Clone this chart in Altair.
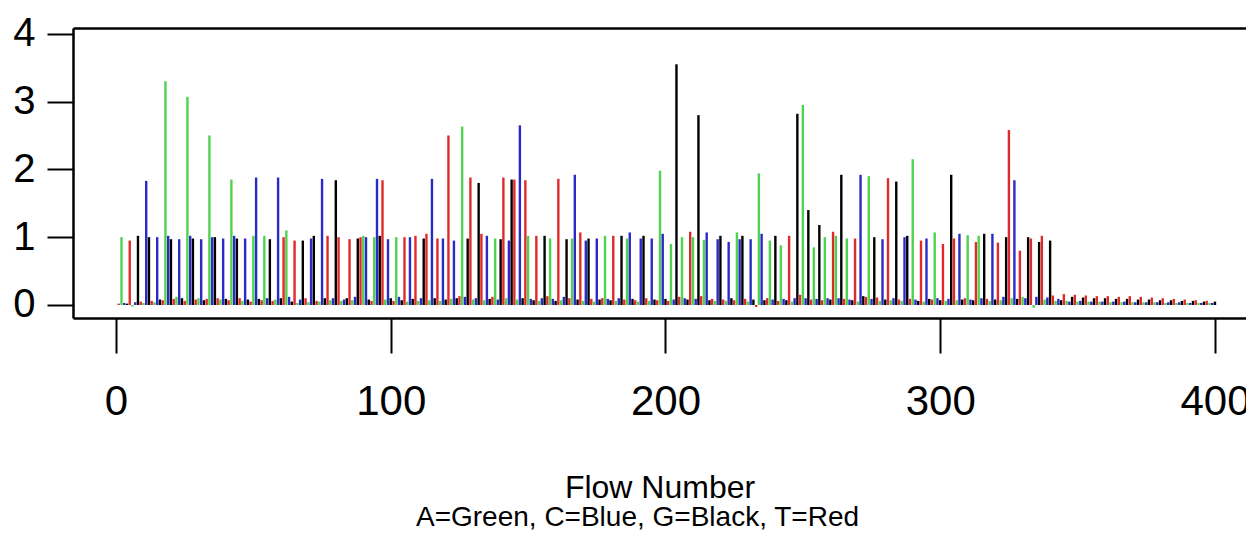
import altair as alt
import pandas as pd

# Flowgram: one signal value per flow, nucleotides flowed in the cyclic order T, A, C, G
FLOW_ORDER = "TACG"

VALUES = [
    # 1-20
    0.02, 1.00, 0.03, 0.02, 0.95, -0.02, 0.04, 1.02, 0.05, 0.03, 1.83, 1.00, 0.06, 0.04, 1.00, 0.08, 0.07, 3.30, 1.02, 0.97,
    # 21-40
    0.09, 0.12, 0.97, 0.10, 0.06, 3.07, 1.02, 0.98, 0.08, 0.10, 0.97, 0.07, 0.09, 2.50, 1.00, 1.00, 0.10, 0.08, 0.98, 0.09,
    # 41-60
    0.07, 1.85, 1.02, 0.98, 0.10, 0.06, 0.98, 0.08, 0.05, 1.02, 1.88, 0.09, 0.07, 1.02, 0.10, 0.97, 0.06, 0.08, 1.88, 0.10,
    # 61-80
    1.00, 1.10, 0.12, 0.05, 0.95, 0.03, 0.08, 0.95, 0.10, 0.04, 0.98, 1.02, 0.06, 0.05, 1.86, 0.10, 1.02, 0.07, 0.10, 1.84,
    # 81-100
    1.00, 0.06, 0.08, 0.10, 0.97, 0.07, 0.12, 0.98, 1.00, 1.02, 1.00, 0.08, 0.06, 1.00, 1.86, 1.02, 1.84, 0.08, 0.97, 0.10,
    # 101-120
    0.06, 1.00, 0.12, 0.07, 1.00, 0.05, 1.00, 0.09, 1.02, 0.06, 0.10, 0.98, 1.05, 0.07, 1.86, 0.10, 0.98, 0.06, 0.98, 0.08,
    # 121-140
    2.50, 0.09, 0.95, 0.10, 0.13, 2.63, 0.12, 0.98, 1.88, 0.08, 0.10, 1.80, 1.05, 0.07, 1.02, 0.09, 0.12, 0.98, 0.08, 0.97,
    # 141-160
    1.88, 0.10, 0.95, 1.85, 1.85, 0.08, 2.65, 0.10, 1.84, 1.02, 0.09, 0.07, 1.02, 0.06, 0.10, 1.02, 0.13, 0.98, 0.09, 0.06,
    # 161-180
    1.86, 0.07, 0.12, 0.97, 0.10, 0.98, 1.92, 0.08, 1.07, 0.06, 0.95, 0.98, 0.09, 0.05, 0.98, 0.08, 0.10, 1.02, 0.09, 0.07,
    # 181-200
    1.02, 0.06, 0.10, 1.02, 0.08, 0.98, 1.07, 0.09, 0.07, 0.05, 0.98, 1.02, 0.10, 0.06, 0.98, 0.08, 0.07, 1.98, 1.05, 0.09,
    # 201-220
    0.06, 0.90, 0.08, 3.55, 0.12, 1.00, 0.10, 0.08, 1.08, 1.00, 0.09, 2.80, 0.13, 0.96, 1.07, 0.07, 0.09, 0.06, 0.97, 1.02,
    # 221-240
    0.08, 0.06, 0.93, 0.10, 0.07, 1.07, 0.97, 1.02, 0.09, 0.05, 0.97, 0.08, -0.03, 1.94, 1.05, 0.07, 0.10, 0.95, 0.08, 1.02,
    # 241-260
    0.06, 0.88, 0.09, 0.07, 1.02, 0.05, 0.10, 2.82, 0.15, 2.95, 0.10, 1.40, 0.08, 0.85, 0.09, 1.18, 0.07, 1.00, 0.10, 0.08,
    # 261-280
    1.08, 1.02, 0.10, 1.92, 0.09, 0.98, 0.08, 0.07, 0.98, 0.05, 1.92, 0.13, 0.12, 1.90, 0.09, 1.00, 0.11, 0.06, 0.97, 0.08,
    # 281-300
    1.87, 0.07, 0.10, 1.82, 0.08, 0.06, 1.00, 1.02, 0.09, 2.15, 0.08, 0.06, 0.95, 0.05, 0.98, 0.09, 0.08, 1.07, 0.10, 0.07,
    # 301-320
    0.90, 0.06, 0.09, 1.92, 0.98, 0.07, 1.05, 0.08, 0.10, 1.03, 0.08, 0.07, 0.93, 1.02, 0.10, 1.05, 0.09, 0.06, 1.05, 0.08,
    # 321-340
    0.92, 0.07, 0.12, 1.00, 2.58, 0.10, 1.84, 0.09, 0.80, 0.12, 0.10, 1.00, 0.98, -0.04, 0.12, 0.93, 1.02, 0.08, 0.11, 0.95,
    # 341-360
    0.14, 0.06, 0.09, 0.07, 0.16, 0.06, 0.05, 0.12, 0.15, 0.05, 0.06, 0.11, 0.14, 0.05, 0.05, 0.10, 0.13, 0.05, 0.05, 0.10,
    # 361-380
    0.13, 0.04, 0.05, 0.09, 0.12, 0.04, 0.05, 0.09, 0.13, 0.04, 0.04, 0.08, 0.12, 0.04, 0.04, 0.08, 0.11, 0.04, 0.04, 0.07,
    # 381-400
    0.10, 0.03, 0.04, 0.07, 0.09, 0.03, 0.04, 0.06, 0.08, 0.03, 0.03, 0.06, 0.07, 0.03, 0.03, 0.05, 0.06, 0.03, 0.03, 0.05,
]

FLOWS = list(range(1, len(VALUES) + 1))
BASES = [FLOW_ORDER[(f - 1) % len(FLOW_ORDER)] for f in FLOWS]

BASE_DOMAIN = ["A", "C", "G", "T"]
BASE_COLORS = ["#4fd24f", "#2a2ac8", "#000000", "#e02a2a"]

X_TICKS = [0, 100, 200, 300, 400]
Y_TICKS = [0, 1, 2, 3, 4]

df = pd.DataFrame({"flow": FLOWS, "signal": VALUES, "base": BASES})

FONT = "Liberation Sans"
xscale = alt.Scale(domain=[-15.65, 411.3], nice=False, zero=False)
yscale = alt.Scale(domain=[-0.192, 4.085], nice=False, zero=False)

bars = alt.Chart(df).mark_rule(strokeWidth=2.4).encode(
    x=alt.X(
        "flow:Q",
        scale=xscale,
        axis=alt.Axis(
            values=X_TICKS,
            title="Flow Number",
            titleFont=FONT,
            titleFontSize=32,
            titleFontWeight="normal",
            titleColor="black",
            titlePadding=50,
            labelFont=FONT,
            labelFontSize=42,
            labelColor="black",
            labelPadding=28,
            labelFlush=False,
            labelOverlap=False,
            tickSize=35,
            tickWidth=2,
            tickColor="black",
            domainWidth=2.5,
            domainColor="black",
            grid=False,
        ),
    ),
    y=alt.Y(
        "signal:Q",
        scale=yscale,
        axis=alt.Axis(
            values=Y_TICKS,
            title=None,
            labelFont=FONT,
            labelFontSize=40,
            labelColor="black",
            labelPadding=12,
            labelFlush=False,
            labelOverlap=False,
            tickSize=26,
            tickWidth=2,
            tickColor="black",
            domainWidth=2.5,
            domainColor="black",
            grid=False,
        ),
    ),
    y2=alt.datum(0),
    color=alt.Color(
        "base:N",
        scale=alt.Scale(domain=BASE_DOMAIN, range=BASE_COLORS),
        legend=None,
    ),
    order=alt.Order("flow:Q"),
)

# invisible layer that only carries the top frame line
top_frame = alt.Chart(df).mark_rule(opacity=0).encode(
    x=alt.X(
        "flow:Q",
        scale=xscale,
        axis=alt.Axis(
            orient="top",
            labels=False,
            ticks=False,
            title=None,
            domainWidth=2.5,
            domainColor="black",
            grid=False,
        ),
    ),
)

chart = (
    alt.layer(bars, top_frame)
    .resolve_axis(x="independent")
    .properties(
        width=1173,
        height=290,
        padding={"left": 65, "top": 20, "right": 0, "bottom": 230},
        autosize=alt.AutoSizeParams(type="none"),
        title=alt.TitleParams(
            "A=Green, C=Blue, G=Black, T=Red",
            orient="bottom",
            anchor="middle",
            font=FONT,
            fontSize=28,
            fontWeight="normal",
            color="black",
            offset=1,
            dx=-22,
        ),
    )
    .configure_view(stroke=None)
    .configure(background="white")
)

chart.save("out.html", embed_options={"renderer": "svg", "actions": False})
